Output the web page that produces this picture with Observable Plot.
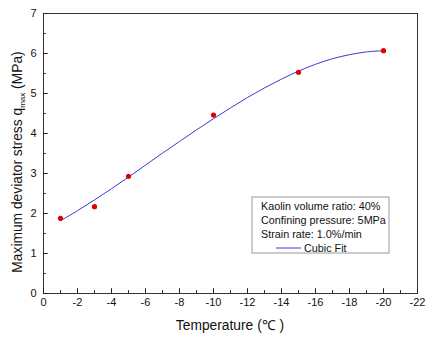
<!DOCTYPE html>
<html><head><meta charset="utf-8">
<script src="https://cdn.jsdelivr.net/npm/d3@7"></script>
<script src="https://cdn.jsdelivr.net/npm/@observablehq/plot@0.6"></script>
<style>body{margin:0;background:#fff;font-family:"Liberation Sans",Arial,sans-serif}</style>
</head><body><div id="chart"></div>
<script>
const tempC = [-1, -3, -5, -10, -15, -20];
const qmax = [1.88, 2.17, 2.93, 4.46, 5.53, 6.07];
const fitTemp = [-1,-2,-3,-4,-5,-6,-7,-8,-9,-10,-11,-12,-13,-14,-15,-16,-17,-18,-19,-20];
const fitQ = [1.82,2.07,2.34,2.62,2.91,3.21,3.51,3.80,4.09,4.37,4.64,4.90,5.14,5.36,5.56,5.73,5.87,5.97,6.04,6.07];
const xTicks = [0,-2,-4,-6,-8,-10,-12,-14,-16,-18,-20,-22];
const xMinor = [-1,-3,-5,-7,-9,-11,-13,-15,-17,-19,-21];
const yTicks = [0,1,2,3,4,5,6,7];
const yMinor = [0.5,1.5,2.5,3.5,4.5,5.5,6.5];
const legendLines = ["Kaolin volume ratio: 40%","Confining pressure: 5MPa","Strain rate: 1.0%/min"];
const fitLabel = "Cubic Fit";

const pts = tempC.map((t,i)=>({t, q:qmax[i]}));
const fit = fitTemp.map((t,i)=>({t, q:fitQ[i]}));

const plot = Plot.plot({
  width: 440, height: 340,
  marginLeft: 43, marginTop: 13, marginRight: 23, marginBottom: 47,
  style: {fontFamily: '"Liberation Sans", Arial, sans-serif', fontSize: "11px", color: "#111", background: "#fff"},
  x: {domain: [0, -22], label: null},
  y: {domain: [0, 7], label: null},
  marks: [
    Plot.frame({stroke: "#333", strokeWidth: 1}),
    Plot.ruleX(xTicks, {x: d=>d, y1: 0, y2: 0.12, stroke: "#222"}),
    Plot.ruleX(xMinor, {x: d=>d, y1: 0, y2: 0.07, stroke: "#222"}),
    Plot.ruleY(yTicks, {y: d=>d, x1: 0, x2: -0.28, stroke: "#222"}),
    Plot.ruleY(yMinor, {y: d=>d, x1: 0, x2: -0.16, stroke: "#222"}),
    Plot.axisX(xTicks, {tickSize: 0, tickPadding: 5, fontSize: 11, tickFormat: d => String(d)}),
    Plot.axisY(yTicks, {tickSize: 0, tickPadding: 7, fontSize: 11, tickFormat: d => String(d)}),
    Plot.line(fit, {x: "t", y: "q", stroke: "#3a3ad8", strokeWidth: 1, curve: "catmull-rom"}),
    Plot.dot(pts, {x: "t", y: "q", r: 2.6, fill: "#e00000", stroke: "none"})
  ]
});
document.getElementById("chart").appendChild(plot);

const svg = d3.select(plot);
const ff = '"Liberation Sans", Arial, sans-serif';
// x label
svg.append("text").attr("x", 230).attr("y", 330).attr("text-anchor","middle")
  .attr("font-size", 13.8).attr("font-family", ff).attr("fill","#111").text("Temperature (℃ )");
// y label with subscript
const yl = svg.append("text").attr("transform","translate(22,162) rotate(-90)")
  .attr("text-anchor","middle").attr("font-size",13.8).attr("font-family",ff).attr("fill","#111");
yl.append("tspan").text("Maximum deviator stress q");
yl.append("tspan").attr("font-size",8).attr("dy",3).text("max");
yl.append("tspan").attr("dy",-3).text(" (MPa)");
// legend
const lg = svg.append("g").attr("text-anchor","start");
lg.append("rect").attr("x",252).attr("y",197).attr("width",137).attr("height",56)
  .attr("fill","#fff").attr("stroke","#999").attr("stroke-width",1);
legendLines.forEach((s,i)=>{
  lg.append("text").attr("x",261).attr("y",209.5+i*14).attr("text-anchor","start").attr("font-size",10.8).attr("font-family",ff).attr("fill","#111").text(s);
});
lg.append("line").attr("x1",276).attr("x2",301).attr("y1",248).attr("y2",248).attr("stroke","#3a3ad8").attr("stroke-width",1);
lg.append("text").attr("x",304).attr("y",251.5).attr("text-anchor","start").attr("font-size",10.8).attr("font-family",ff).attr("fill","#111").text(fitLabel);
</script></body></html>
